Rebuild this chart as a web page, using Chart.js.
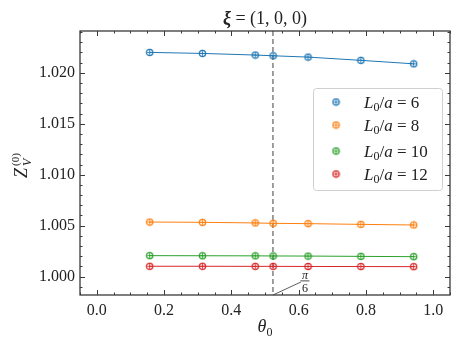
<!DOCTYPE html>
<html lang="en">
<head>
  <meta charset="UTF-8">
  <title>Z_V vs theta_0</title>
  <script src="https://cdn.jsdelivr.net/npm/chart.js"></script>
  <style>
    body { margin: 0; background: #fff; }
    #wrap { width: 461px; height: 346px; position: relative; }
  </style>
</head>
<body>
  <div id="wrap"><canvas id="zvChart"></canvas></div>
  <script>
    const theta0 = [0.157, 0.314, 0.471, 0.524, 0.628, 0.785, 0.942];
    const zvL6 = [1.02200, 1.02190, 1.02174, 1.02167, 1.02154, 1.02122, 1.02088];
    const zvL8 = [1.00536, 1.00533, 1.00527, 1.00523, 1.00520, 1.00513, 1.00507];
    const zvL10 = [1.00206, 1.00205, 1.00204, 1.00203, 1.00202, 1.00199, 1.00196];
    const zvL12 = [1.00102, 1.00102, 1.00101, 1.00101, 1.00100, 1.00099, 1.00098];
    const seriesLabels = ['6', '8', '10', '12'];
    const xTicks = [0.0, 0.2, 0.4, 0.6, 0.8, 1.0];
    const yTicks = [1.000, 1.005, 1.010, 1.015, 1.020];
    const piOver6 = 0.5236;

    const colors = ['#1f77b4', '#ff7f0e', '#2ca02c', '#d62728'];
    const serif = '"Liberation Serif", "DejaVu Serif", serif';

    // circle with a cross inside, like the matplotlib markers
    function makeMarker(color) {
      const c = document.createElement('canvas');
      c.width = 9; c.height = 9;
      const g = c.getContext('2d');
      g.strokeStyle = color;
      g.lineWidth = 1.2;
      g.beginPath();
      g.arc(4.5, 4.5, 3.2, 0, Math.PI * 2);
      g.stroke();
      g.lineWidth = 0.9;
      g.beginPath();
      g.moveTo(4.5, 2.2); g.lineTo(4.5, 6.8);
      g.moveTo(2.2, 4.5); g.lineTo(6.8, 4.5);
      g.stroke();
      return c;
    }
    const markers = colors.map(makeMarker);

    const allSeries = [zvL6, zvL8, zvL10, zvL12];
    const datasets = allSeries.map((vals, i) => ({
      label: 'L0/a = ' + seriesLabels[i],
      data: theta0.map((t, j) => ({ x: t, y: vals[j] })),
      showLine: true,
      borderColor: colors[i],
      borderWidth: 1,
      pointStyle: markers[i],
      pointRadius: 4
    }));

    const decor = {
      id: 'decor',
      beforeDatasetsDraw(chart) {
        const { ctx, chartArea: a, scales: { x } } = chart;
        ctx.save();
        // dashed line at pi/6
        const px = x.getPixelForValue(piOver6);
        ctx.strokeStyle = '#808080';
        ctx.lineWidth = 1.5;
        ctx.setLineDash([5, 3]);
        ctx.beginPath();
        ctx.moveTo(px, a.top);
        ctx.lineTo(px, a.bottom);
        ctx.stroke();
        ctx.restore();
      },
      afterDraw(chart) {
        const { ctx, chartArea: a, scales: { x, y } } = chart;
        ctx.save();
        // frame
        ctx.strokeStyle = '#3a3a3a';
        ctx.lineWidth = 1.3;
        ctx.strokeRect(a.left, a.top, a.right - a.left, a.bottom - a.top);

        // inward ticks on all sides
        ctx.lineWidth = 1;
        ctx.beginPath();
        for (let v = -0.05; v <= 1.0501; v += 0.05) {
          const p = Math.round(x.getPixelForValue(v)) + 0.5;
          const major = Math.abs(v / 0.2 - Math.round(v / 0.2)) < 1e-6;
          const len = major ? 5 : 2.5;
          ctx.moveTo(p, a.bottom); ctx.lineTo(p, a.bottom - len);
          ctx.moveTo(p, a.top); ctx.lineTo(p, a.top + len);
        }
        for (let k = 999; k <= 1024; k++) {
          const v = k / 1000;
          const p = Math.round(y.getPixelForValue(v)) + 0.5;
          const len = k % 5 === 0 ? 5 : 2.5;
          ctx.moveTo(a.left, p); ctx.lineTo(a.left + len, p);
          ctx.moveTo(a.right, p); ctx.lineTo(a.right - len, p);
        }
        ctx.stroke();

        // pi/6 annotation
        const px = x.getPixelForValue(piOver6);
        ctx.strokeStyle = '#333';
        ctx.lineWidth = 0.8;
        ctx.beginPath();
        ctx.moveTo(px, a.bottom);
        ctx.lineTo(px + 28, a.bottom - 13);
        ctx.stroke();
        ctx.fillStyle = '#222';
        ctx.textAlign = 'center';
        ctx.font = 'italic 12px ' + serif;
        ctx.fillText('π', px + 32, a.bottom - 16);
        ctx.fillRect(px + 27.5, a.bottom - 14.5, 9, 0.8);
        ctx.font = '12px ' + serif;
        ctx.fillText('6', px + 32, a.bottom - 3);

        // title
        ctx.textAlign = 'left';
        ctx.textBaseline = 'alphabetic';
        const tRest = ' = (1, 0, 0)';
        ctx.font = 'bold italic 18px ' + serif;
        const wXi = ctx.measureText('ξ').width;
        ctx.font = '18px ' + serif;
        const wRest = ctx.measureText(tRest).width;
        const tx = (a.left + a.right) / 2 - (wXi + wRest) / 2;
        ctx.font = 'bold italic 18px ' + serif;
        ctx.fillText('ξ', tx, 24);
        ctx.font = '18px ' + serif;
        ctx.fillText(tRest, tx + wXi, 24);

        // x axis title theta_0
        const cx = x.getPixelForValue(0.5);
        ctx.font = 'italic 18px ' + serif;
        const wTh = ctx.measureText('θ').width;
        ctx.fillText('θ', cx - wTh / 2 - 3, 332);
        ctx.font = '12px ' + serif;
        ctx.fillText('0', cx + wTh / 2 - 3, 336);

        // y axis title Z_V^(0)
        ctx.save();
        ctx.translate(27, (a.top + a.bottom) / 2);
        ctx.rotate(-Math.PI / 2);
        ctx.font = 'italic 18px ' + serif;
        ctx.fillText('Z', -15, 0);
        ctx.font = 'italic 12px ' + serif;
        ctx.fillText('V', -3, 4);
        ctx.font = '11px ' + serif;
        ctx.fillText('(0)', -3, -8);
        ctx.restore();

        // legend box
        const lx = 313, ly = 88, lw = 129, lh = 102;
        ctx.fillStyle = 'rgba(255,255,255,0.85)';
        ctx.strokeStyle = '#d0d0d0';
        ctx.lineWidth = 1;
        ctx.beginPath();
        ctx.roundRect(lx + 0.5, ly + 0.5, lw, lh, 3);
        ctx.fill();
        ctx.stroke();
        const rows = [102, 125, 151, 174];
        seriesLabels.forEach((lab, i) => {
          const ry = rows[i];
          ctx.drawImage(markers[i], 331.5, ry - 4.5);
          let sx = 364;
          ctx.fillStyle = '#222';
          ctx.font = 'italic 17px ' + serif;
          ctx.fillText('L', sx, ry + 6);
          sx += ctx.measureText('L').width;
          ctx.font = '12px ' + serif;
          ctx.fillText('0', sx, ry + 9);
          sx += ctx.measureText('0').width;
          ctx.font = '17px ' + serif;
          ctx.fillText('/', sx, ry + 6);
          sx += ctx.measureText('/').width;
          ctx.font = 'italic 17px ' + serif;
          ctx.fillText('a', sx, ry + 6);
          sx += ctx.measureText('a').width;
          ctx.font = '17px ' + serif;
          ctx.fillText(' = ' + lab, sx, ry + 6);
        });
        ctx.restore();
      }
    };

    new Chart(document.getElementById('zvChart'), {
      type: 'scatter',
      data: { datasets },
      options: {
        responsive: true,
        maintainAspectRatio: false,
        animation: false,
        layout: { padding: { top: 31, right: 11, left: 0, bottom: 0 } },
        plugins: { legend: { display: false }, tooltip: { enabled: false } },
        scales: {
          x: {
            type: 'linear',
            min: -0.05,
            max: 1.05,
            afterFit: s => { s.height = 51; },
            afterBuildTicks: s => { s.ticks = xTicks.map(v => ({ value: v })); },
            grid: { display: false, drawTicks: false },
            border: { display: false },
            ticks: {
              padding: 6,
              color: '#222',
              font: { family: serif, size: 16 },
              callback: v => v.toFixed(1)
            }
          },
          y: {
            min: 0.9982,
            max: 1.0241,
            afterFit: s => { s.width = 80; },
            afterBuildTicks: s => { s.ticks = yTicks.map(v => ({ value: v })); },
            grid: { display: false, drawTicks: false },
            border: { display: false },
            ticks: {
              padding: 5,
              color: '#222',
              font: { family: serif, size: 16 },
              callback: v => v.toFixed(3)
            }
          }
        }
      },
      plugins: [decor]
    });
  </script>
</body>
</html>
